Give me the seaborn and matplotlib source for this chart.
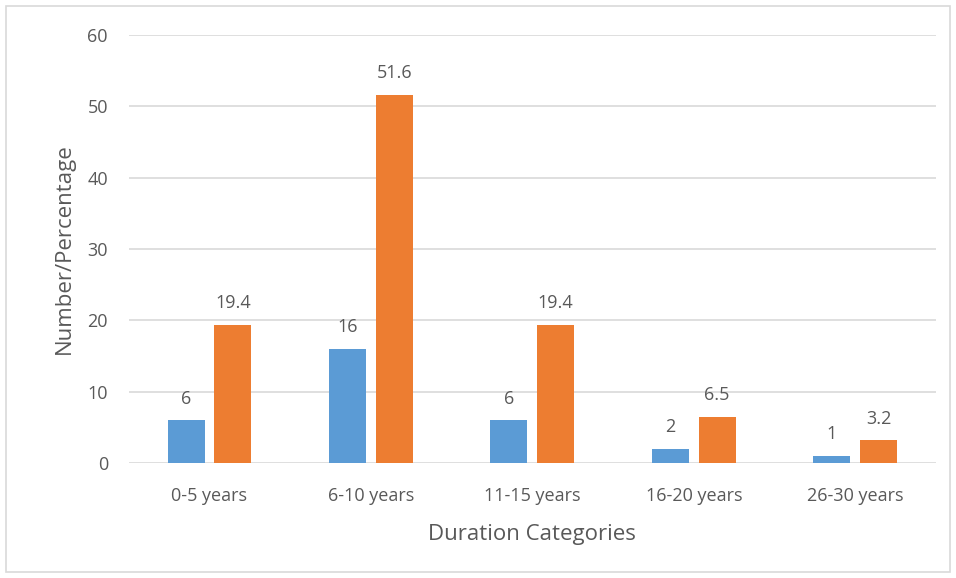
import matplotlib
matplotlib.use("Agg")
import matplotlib.pyplot as plt
import seaborn as sns
import pandas as pd
from matplotlib.patches import Rectangle

categories = ["0-5 years", "6-10 years", "11-15 years", "16-20 years", "26-30 years"]
number = [6, 16, 6, 2, 1]
percentage = [19.4, 51.6, 19.4, 6.5, 3.2]
series_names = ["Number", "Percentage"]
yticks = [0, 10, 20, 30, 40, 50, 60]

df = pd.DataFrame({
    "Category": categories * 2,
    "Value": number + percentage,
    "Series": [series_names[0]] * len(categories) + [series_names[1]] * len(categories),
})

sns.set_theme(style="white")
plt.rcParams["font.family"] = ["Open Sans", "DejaVu Sans"]

text_color = "#595959"
fig = plt.figure(figsize=(9.56, 5.78), dpi=100)
ax = fig.add_axes([0.1347, 0.199, 0.8443, 0.7404])

sns.barplot(data=df, x="Category", y="Value", hue="Series",
            palette=["#5B9BD5", "#ED7D31"], width=0.58, gap=0.21,
            order=categories, hue_order=series_names, ax=ax, legend=False,
            saturation=1, linewidth=0)

for cont, fmt in zip(ax.containers, ["%g", "%.1f"]):
    ax.bar_label(cont, fmt=fmt, padding=9, fontsize=13, color=text_color)

ax.set_ylim(0, 60)
ax.set_yticks(yticks)
ax.set_xlim(-0.5, len(categories) - 0.5)
ax.yaxis.grid(True, color="#D9D9D9", linewidth=1.2)
ax.set_axisbelow(True)
for s in ax.spines.values():
    s.set_visible(False)
ax.tick_params(axis="both", length=0, colors=text_color, labelsize=13)
ax.tick_params(axis="x", pad=17)
ax.tick_params(axis="y", pad=15)
ax.set_xlabel("Duration Categories", fontsize=16, color=text_color, labelpad=14)
ax.set_ylabel("Number/Percentage", fontsize=16, color=text_color, labelpad=9)

fig.patches.append(Rectangle((6 / 956, 6 / 578), 944 / 956, 566 / 578,
                             transform=fig.transFigure, fill=False,
                             edgecolor="#D9D9D9", linewidth=1.2))

fig.savefig("out.png", dpi=100)
